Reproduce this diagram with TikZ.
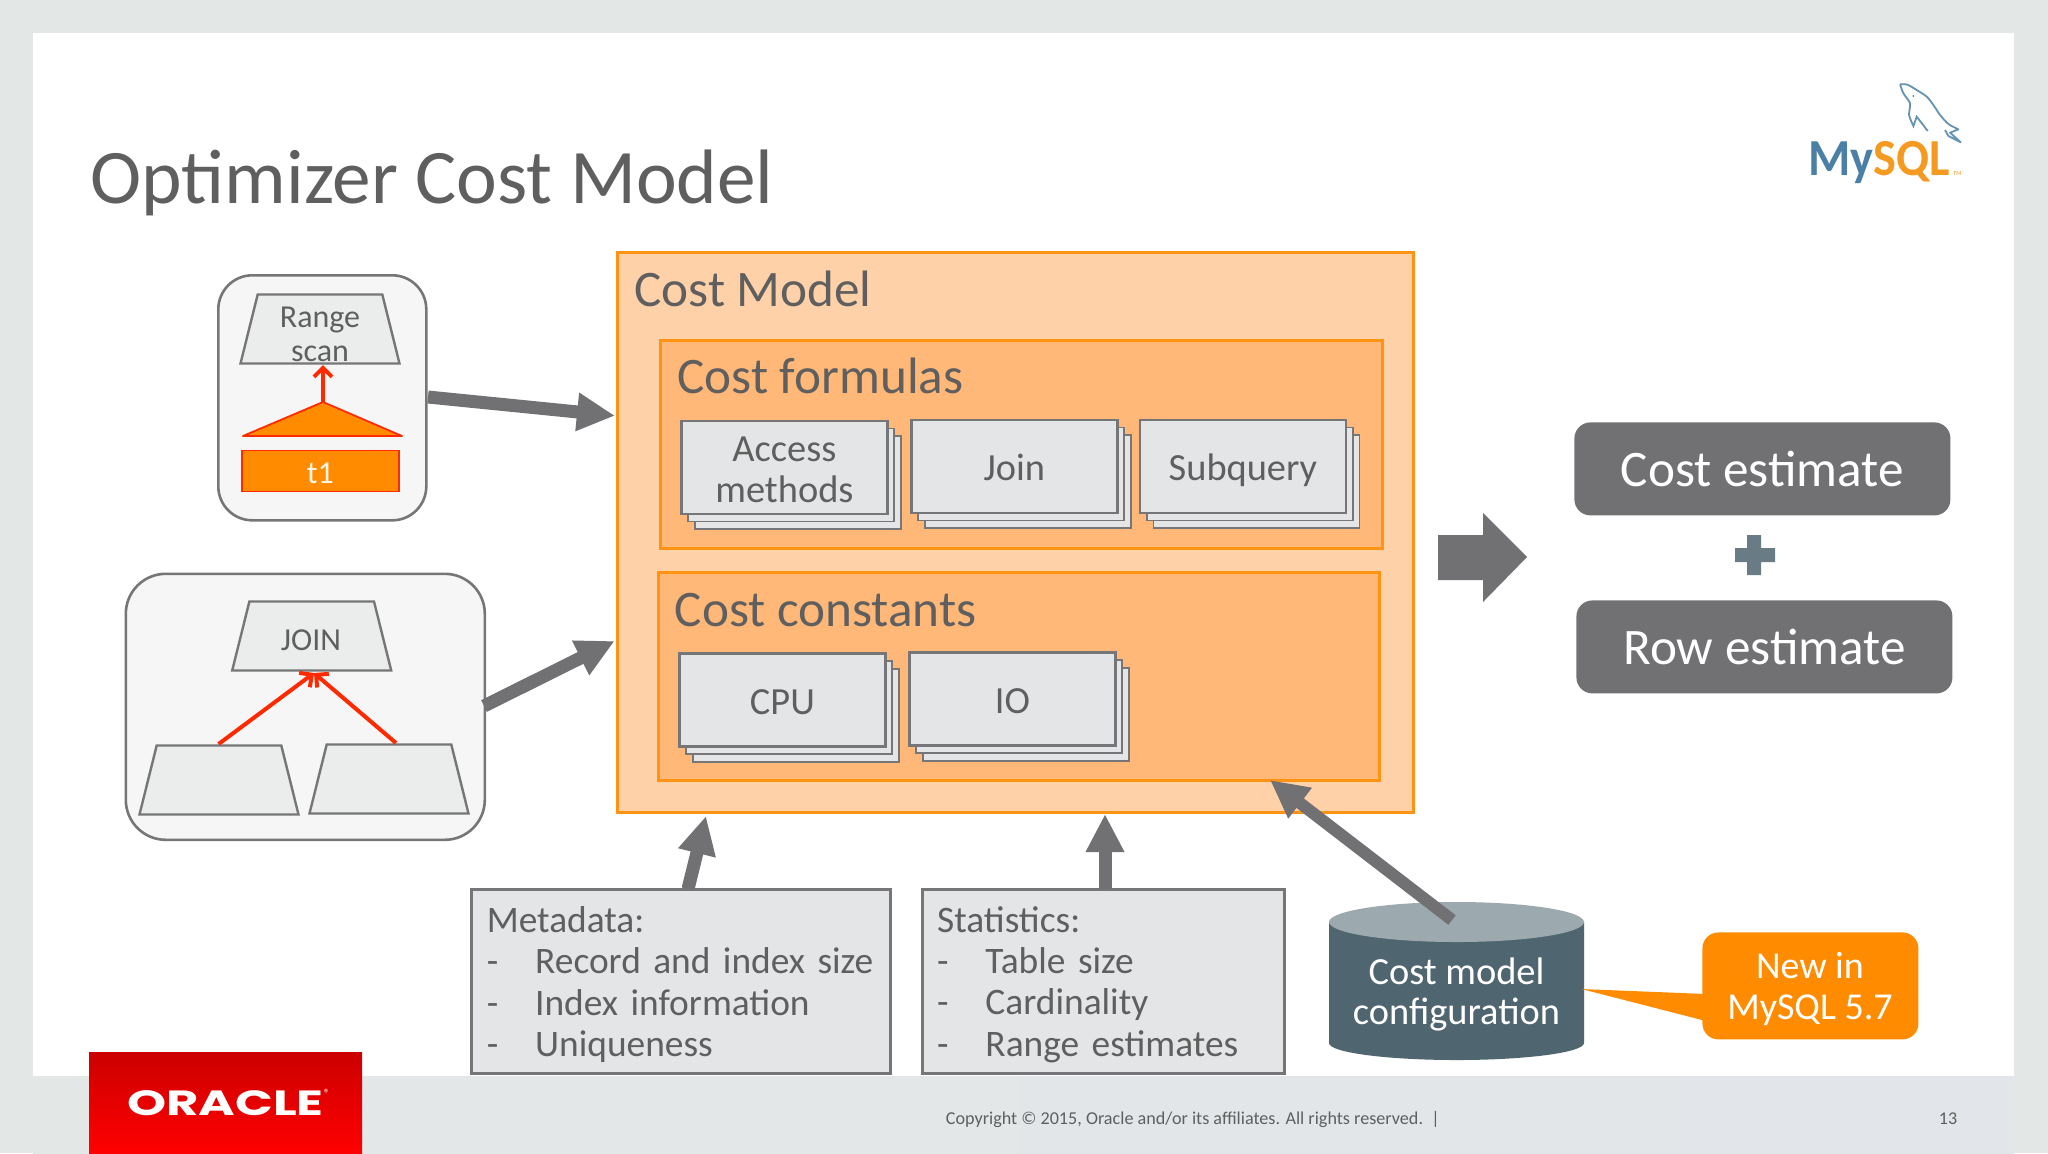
\documentclass[tikz,border=0pt]{standalone}
\usepackage{fontspec}
\setmainfont{Carlito}
\newfontfamily\logofont{Poppins}
\usetikzlibrary{arrows.meta,shapes.geometric,shadows}
\definecolor{txt}{HTML}{5F5F5F}
\definecolor{edge}{HTML}{767678}
\definecolor{panel}{HTML}{E3E5E6}
\definecolor{outerfill}{HTML}{FFD1A8}
\definecolor{innerfill}{HTML}{FFB877}
\definecolor{orange}{HTML}{FF8C00}
\definecolor{orangeline}{HTML}{FF9314}
\definecolor{redline}{HTML}{FF2A00}
\definecolor{arrowgray}{HTML}{717073}
\definecolor{dbbody}{HTML}{4F6570}
\definecolor{dbtop}{HTML}{9CA9AF}
\definecolor{mysqlblue}{HTML}{4A80A6}
\definecolor{mysqlorange}{HTML}{F49A20}
\definecolor{slideL}{HTML}{E3E8E6}
\definecolor{slideR}{HTML}{E2E5E9}
\definecolor{oraTop}{HTML}{CC0000}
\definecolor{oraBot}{HTML}{FF0000}
\tikzset{
  big/.style={anchor=base west,inner sep=0pt,text=txt,font=\fontsize{25.6}{30}\selectfont},
  group/.style={draw=orangeline,line width=1.5pt,anchor=north west,inner sep=0pt},
  card/.style={draw=edge,fill=panel,line width=1.4pt,anchor=north west,inner sep=0pt,
    minimum width=103pt,minimum height=46.5pt,text=txt,align=center,
    font=\fontsize{19.2}{20.5}\selectfont,
    double copy shadow={shadow xshift=3.4pt,shadow yshift=-3.8pt,draw=edge,fill=panel,line width=.9pt}},
  oneline/.style={text height=17.3pt,text depth=3pt},
  plan/.style={draw=edge,fill=panel!70!white,line width=1.2pt,trapezium,
    trapezium left angle=76,trapezium right angle=76,inner sep=0pt,text width=62.3pt,text height=34.5pt,text depth=0pt},
  tree/.style={draw=edge,fill=black!3.5,line width=1.3pt,rounded corners=17pt,anchor=north west,inner sep=0pt},
  flow/.style={arrowgray,line width=6.5pt,-{Triangle[length=19pt,width=18pt]}},
  dep/.style={redline,line width=2pt,-{Straight Barb[length=4.5pt,width=9pt]}},
  info/.style={draw=edge,fill=panel,line width=1.3pt,anchor=north west,inner sep=0pt,minimum height=92.2pt,text=txt},
  result/.style={fill=arrowgray,rounded corners=8pt,anchor=north west,minimum width=188pt,minimum height=46.5pt,
    inner sep=0pt,text=white,font=\fontsize{25.6}{28}\selectfont},
}
\newcommand{\li}[1]{\makebox[24.2pt][l]{-}#1}
\begin{document}
\begin{tikzpicture}[x=0.5pt,y=-0.5pt]
\useasboundingbox (0,0) rectangle (2048,1153);
% slide
\fill[slideL] (0,0) rectangle (2048,1153);
\fill[white] (33,33) rectangle (2014,1076);
\shade[left color=slideL,right color=slideR] (33,1076) rectangle (2014,1153);
\node[big,font=\fontsize{38.6}{42}\selectfont] (title) at (90,203) {Optimizer Cost Model};
% oracle logo
\shade[top color=oraTop,bottom color=oraBot] (89,1052) rectangle (362,1153);
\node[anchor=center,inner sep=0pt,text=white,xscale=1.42,font=\logofont\bfseries\fontsize{17.5}{20}\selectfont] (oracle) at (225.5,1103) {ORACLE};
\node[anchor=center,inner sep=0pt,text=white,font=\fontsize{6}{7}\selectfont] (reg) at (327,1093) {®};
% mysql logo
\node[anchor=base west,inner sep=0pt,xscale=.93,font=\bfseries\fontsize{26}{30}\selectfont] (mysql) at (1808,175) {\textcolor{mysqlblue}{My}\textcolor{mysqlorange}{SQL}};
\node[anchor=base west,inner sep=0pt,text=mysqlorange,font=\fontsize{3}{4}\selectfont] (tm) at (1953,175) {TM};
\begin{scope}[shift={(1700,50)},x=0.1667pt,y=-0.1667pt]
\draw[mysqlblue!85!white,line width=.9pt,line join=round] plot[smooth,tension=.45] coordinates {(600,103) (622,104) (650,120) (680,140) (700,165) (720,195) (745,222) (775,238)} -- (750,248) -- (782,277) -- (745,258) -- (735,240);
\draw[mysqlblue!85!white,line width=.9pt] plot[smooth,tension=.45] coordinates {(600,103) (610,130) (630,160) (627,195) (640,228)} -- (650,200) -- (683,243);
\fill[mysqlblue] (640,138) circle (3);
\end{scope}
% cost model
\node[group,fill=outerfill,minimum width=398.2pt,minimum height=280pt] (model) at (616,250.5) {};
\node[big] (modeltxt) at (634,306) {Cost Model};
\node[group,fill=innerfill,minimum width=361pt,minimum height=104pt] (formulas) at (658.5,338.5) {};
\node[big] (formulastxt) at (677,393) {Cost formulas};
\node[group,fill=innerfill,minimum width=360.5pt,minimum height=104pt] (constants) at (656.5,570.5) {};
\node[big] (constantstxt) at (674.5,626) {Cost constants};
\node[card] (access) at (680,419.5) {\rule{0pt}{15pt}Access\\methods};
\node[card,oneline] (join) at (910,418.5) {Join};
\node[card,oneline] (subq) at (1138.5,418.5) {Subquery};
\node[card,oneline] (cpu) at (678,652) {CPU};
\node[card,oneline] (io) at (908,651) {IO};
% range scan plan
\node[tree,minimum width=104pt,minimum height=122.5pt] (rangebox) at (217,274) {};
\node[plan] (range) at (320,329) {\phantom{x}};
\node[anchor=center,inner sep=0pt,text=txt,align=center,font=\fontsize{16}{17}\selectfont] (rangetxt) at (320,334) {Range\\scan};
\coordinate (apex) at (323,402);
\coordinate (rtip) at (323,365);
\draw[redline,fill=orange,line width=.9pt,line join=round] (243,436) -- (apex) -- (402,436) -- cycle;
\node[draw=redline,fill=orange,line width=.9pt,anchor=north west,inner sep=0pt,minimum width=78.5pt,minimum height=20.5pt,text=white!90!orange,text height=15pt,text depth=2pt,font=\fontsize{16}{18}\selectfont] (t1) at (241,449.5) {t1};
\draw[dep] (apex) -- (rtip);
% join plan
\node[tree,rounded corners=20pt,minimum width=179.5pt,minimum height=133pt] (joinbox) at (124.5,572.5) {};
\node[plan] (jn) at (311.7,636) {\phantom{x}};
\node[anchor=base,inner sep=0pt,text=txt,font=\fontsize{16}{18}\selectfont] (jntxt) at (311,650) {JOIN};
\node[plan] (left) at (219,780) {\phantom{x}};
\node[plan] (right) at (389,779) {\phantom{x}};
\coordinate (jtip) at (314,673);
\coordinate (lstart) at (218.6,744);
\coordinate (rstart) at (396,743);
\draw[dep] (lstart) -- (jtip);
\draw[dep] (rstart) -- (jtip);
% inputs
\coordinate (r1) at (428,397);
\coordinate (r2) at (615,415.7);
\draw[flow] (r1) -- (r2);
\coordinate (j1) at (484,706);
\coordinate (j2) at (614.6,641);
\draw[flow] (j1) -- (j2);
\node[info,minimum width=209.7pt,text width=203pt,align=left,font=\fontsize{18.7}{20.6}\selectfont] (meta) at (470,888) {\rule{0pt}{16pt}\hspace*{4.4pt}Metadata:\\\hspace*{4.4pt}\li{Record and index size}\\\hspace*{4.4pt}\li{Index information}\\\hspace*{4.4pt}\li{Uniqueness}};
\node[info,minimum width=181pt,text width=175pt,align=left,font=\fontsize{18.7}{20.6}\selectfont] (stat) at (921,888) {\rule{0pt}{16pt}\hspace*{4.4pt}Statistics:\\\hspace*{4.4pt}\li{Table size}\\\hspace*{4.4pt}\li{Cardinality}\\\hspace*{4.4pt}\li{Range estimates}};
\coordinate (m1) at (688,889);
\coordinate (m2) at (706,816);
\draw[flow] (m1) -- (m2);
\coordinate (s1) at (1105,889);
\coordinate (s2) at (1105,814);
\draw[flow] (s1) -- (s2);
% configuration cylinder
\fill[dbbody] (1329,922) -- (1329,1043) arc[start angle=180,end angle=0,x radius=127.5,y radius=17] -- (1584,922) -- cycle;
\fill[dbtop] (1456.5,922) ellipse [x radius=127.5,y radius=20];
\node[anchor=center,inner sep=0pt,text=white,align=center,font=\fontsize{19.2}{20}\selectfont] (config) at (1456.5,994) {Cost model\\configuration};
\coordinate (c1) at (1452,920);
\coordinate (c2) at (1270,780);
\draw[flow,line width=6pt] (c1) -- (c2);
% callout
\coordinate (ctip) at (1581.5,989);
\node[fill=orange,rounded corners=8pt,anchor=north west,inner sep=0pt,minimum width=108pt,minimum height=53.5pt] (newin) at (1702,932) {};
\fill[orange] (ctip) -- (1706,994) -- (1706,1021) -- cycle;
\node[anchor=center,inner sep=0pt,text=white,align=center,font=\fontsize{19}{20.5}\selectfont] (newintxt) at (1810,989) {New in\\MySQL 5.7};
% results
\node[result] (cost) at (1574,422) {Cost estimate};
\node[result] (row) at (1576,600) {Row estimate};
\fill[arrowgray] (1438,535) -- (1483,535) -- (1483,513) -- (1527,557) -- (1483,602) -- (1483,580) -- (1438,580) -- cycle;
\fill[dbbody!85!white] (1747,535) -- (1761,535) -- (1761,548) -- (1775,548) -- (1775,562) -- (1761,562) -- (1761,575) -- (1747,575) -- (1747,562) -- (1735,562) -- (1735,548) -- (1747,548) -- cycle;
% footer
\node[anchor=base west,inner sep=0pt,text=txt,font=\fontsize{9.07}{11}\selectfont] (copy) at (945.5,1124.5) {Copyright © 2015, Oracle and/or its affiliates. All rights reserved.\ \ |};
\node[anchor=base,inner sep=0pt,text=txt,font=\fontsize{9}{11}\selectfont] (page) at (1948,1124.5) {13};
\end{tikzpicture}
\end{document}
